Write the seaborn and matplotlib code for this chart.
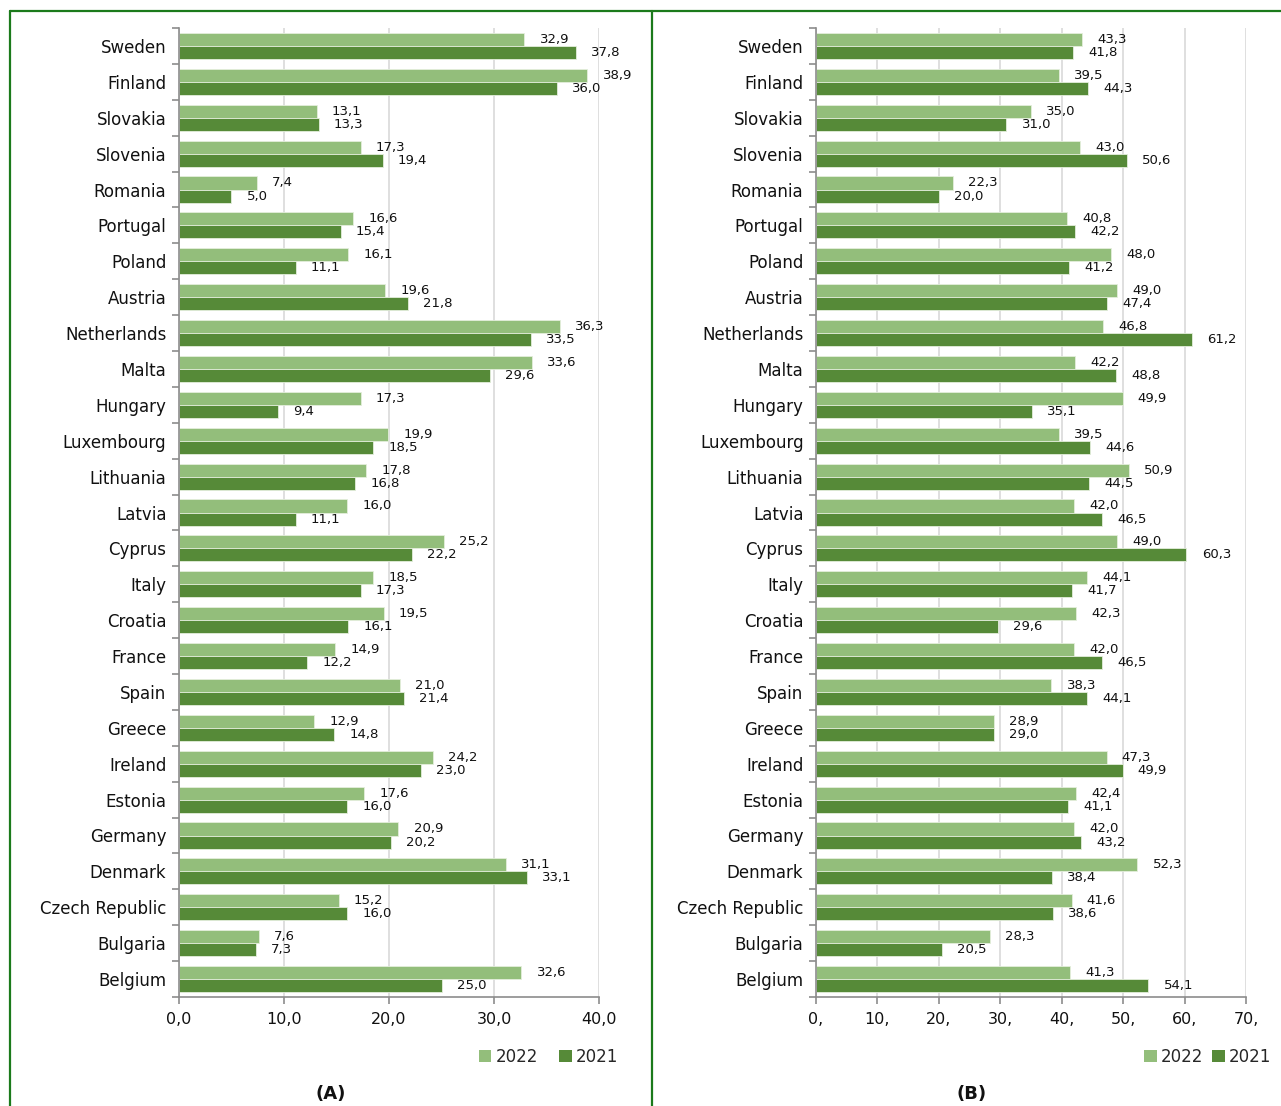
import matplotlib
matplotlib.use("Agg")
import matplotlib.pyplot as plt
from matplotlib.lines import Line2D
from matplotlib.patches import Patch
from matplotlib.ticker import FixedLocator
import numpy as np
import pandas as pd
import seaborn as sns

countries = ["Sweden", "Finland", "Slovakia", "Slovenia", "Romania", "Portugal",
             "Poland", "Austria", "Netherlands", "Malta", "Hungary", "Luxembourg",
             "Lithuania", "Latvia", "Cyprus", "Italy", "Croatia", "France", "Spain",
             "Greece", "Ireland", "Estonia", "Germany", "Denmark", "Czech Republic",
             "Bulgaria", "Belgium"]

# Panel A
a_2022 = [32.9, 38.9, 13.1, 17.3, 7.4, 16.6, 16.1, 19.6, 36.3, 33.6, 17.3, 19.9,
          17.8, 16.0, 25.2, 18.5, 19.5, 14.9, 21.0, 12.9, 24.2, 17.6, 20.9, 31.1,
          15.2, 7.6, 32.6]
a_2021 = [37.8, 36.0, 13.3, 19.4, 5.0, 15.4, 11.1, 21.8, 33.5, 29.6, 9.4, 18.5,
          16.8, 11.1, 22.2, 17.3, 16.1, 12.2, 21.4, 14.8, 23.0, 16.0, 20.2, 33.1,
          16.0, 7.3, 25.0]

# Panel B
b_2022 = [43.3, 39.5, 35.0, 43.0, 22.3, 40.8, 48.0, 49.0, 46.8, 42.2, 49.9, 39.5,
          50.9, 42.0, 49.0, 44.1, 42.3, 42.0, 38.3, 28.9, 47.3, 42.4, 42.0, 52.3,
          41.6, 28.3, 41.3]
b_2021 = [41.8, 44.3, 31.0, 50.6, 20.0, 42.2, 41.2, 47.4, 61.2, 48.8, 35.1, 44.6,
          44.5, 46.5, 60.3, 41.7, 29.6, 46.5, 44.1, 29.0, 49.9, 41.1, 43.2, 38.4,
          38.6, 20.5, 54.1]

years = ["2022", "2021"]
a_ticks = [0, 10, 20, 30, 40]
a_ticklabels = ["0,0", "10,0", "20,0", "30,0", "40,0"]
b_ticks = [0, 10, 20, 30, 40, 50, 60, 70]
b_ticklabels = ["0,", "10,", "20,", "30,", "40,", "50,", "60,", "70,"]
panel_titles = ["(A)", "(B)"]

light_green = "#93BE7B"
dark_green = "#568A38"
frame_green = "#1B7A1B"
axis_gray = "#8C8C8C"
grid_gray = "#D9D9D9"

sns.set_theme(style="white")
plt.rcParams["font.family"] = ["DejaVu Sans"]

W, H = 1281, 1106
fig = plt.figure(figsize=(W / 100, H / 100), dpi=100)


def px_rect(x0, x1, ytop, ybot):
    return [x0 / W, (H - ybot) / H, (x1 - x0) / W, (ybot - ytop) / H]


def comma(v):
    return f"{v:.1f}".replace(".", ",")


def draw_panel(rect, v2022, v2021, ticks, ticklabels, xmax):
    ax = fig.add_axes(rect)
    df = pd.DataFrame({
        "country": countries * 2,
        "value": list(v2022) + list(v2021),
        "year": [years[0]] * len(countries) + [years[1]] * len(countries),
    })
    sns.barplot(data=df, y="country", x="value", hue="year", hue_order=years,
                palette=[light_green, dark_green], saturation=1, orient="h",
                width=0.73, edgecolor="#E4EEDC", linewidth=0.6, legend=False,
                ax=ax)
    for cont, vals in zip(ax.containers, [v2022, v2021]):
        ax.bar_label(cont, labels=[comma(v) for v in vals], padding=11,
                     fontsize=9.5, color="#111111")
    ax.set_xlim(0, xmax)
    ax.set_ylim(len(countries) - 0.5, -0.5)
    ax.set_xlabel("")
    ax.set_ylabel("")
    ax.set_xticks(ticks)
    ax.set_xticklabels(ticklabels, fontsize=11.5, color="#111111")
    ax.tick_params(axis="x", direction="out", length=5, width=1.2,
                   color=axis_gray, pad=6, bottom=True)
    ax.tick_params(axis="y", which="major", length=0, pad=9,
                   labelsize=12, labelcolor="#111111")
    ax.yaxis.set_minor_locator(FixedLocator(np.arange(-0.5, len(countries), 1.0)))
    ax.tick_params(axis="y", which="minor", direction="out", length=5,
                   width=1.2, color=axis_gray, left=True)
    for s in ["top", "right"]:
        ax.spines[s].set_visible(False)
    for s in ["left", "bottom"]:
        ax.spines[s].set_color(axis_gray)
        ax.spines[s].set_linewidth(1.2)
    ax.xaxis.grid(True, color=grid_gray, linewidth=1.2)
    ax.yaxis.grid(False)
    ax.set_axisbelow(True)
    return ax


ax_a = draw_panel(px_rect(179, 599, 28, 997), a_2022, a_2021,
                  a_ticks, a_ticklabels, 40)
ax_b = draw_panel(px_rect(816, 1246, 28, 997), b_2022, b_2021,
                  b_ticks, b_ticklabels, 70)

handles = [Patch(facecolor=light_green, edgecolor="none", label=years[0]),
           Patch(facecolor=dark_green, edgecolor="none", label=years[1])]
for xr, yc, spacing in [(625, 1057, 1.3), (1278, 1057, 0.55)]:
    fig.legend(handles=handles, loc="center right", ncol=2, frameon=False,
               bbox_to_anchor=(xr / W, 1 - yc / H), fontsize=12,
               handlelength=0.75, handleheight=0.75, handletextpad=0.25,
               columnspacing=spacing, borderaxespad=0)

for title, xc in zip(panel_titles, [331, 972]):
    fig.text(xc / W, 1 - 1094 / H, title, ha="center", va="center",
             fontsize=13, fontweight="bold", color="#111111")

# Green frame around the two panels
lw = 1.6
fig.add_artist(Line2D([10 / W, 1.0], [1 - 11 / H, 1 - 11 / H],
                      color=frame_green, linewidth=lw))
fig.add_artist(Line2D([10 / W, 10 / W], [1 - 11 / H, 0],
                      color=frame_green, linewidth=lw))
fig.add_artist(Line2D([652 / W, 652 / W], [1 - 11 / H, 0],
                      color=frame_green, linewidth=lw))

fig.savefig("out.png", dpi=100)
